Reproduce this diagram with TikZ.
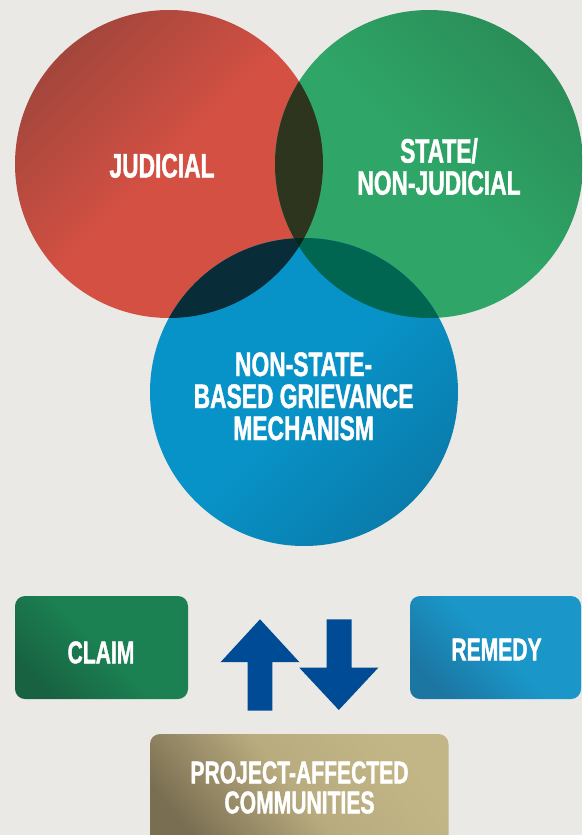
\documentclass[tikz,border=0pt]{standalone}
\usepackage{fontspec}
\newfontfamily\condfont{Liberation Sans}[FakeStretch=0.67,FakeBold=1.2]
\definecolor{bg}{RGB}{235,233,229}
\definecolor{redMain}{RGB}{212,80,67}
\definecolor{redDark}{RGB}{163,70,60}
\definecolor{greenMain}{RGB}{47,165,103}
\definecolor{greenDark}{RGB}{42,142,88}
\definecolor{blueMain}{RGB}{8,147,200}
\definecolor{blueDark}{RGB}{10,124,172}
\definecolor{rgCol}{RGB}{45,53,30}
\definecolor{rbCol}{RGB}{8,44,56}
\definecolor{gbCol}{RGB}{0,102,82}
\definecolor{rgbCol}{RGB}{8,34,28}
\definecolor{arrowBlue}{RGB}{0,75,150}
\definecolor{claimMain}{RGB}{27,128,82}
\definecolor{claimDark}{RGB}{24,98,65}
\definecolor{remedyMain}{RGB}{26,150,200}
\definecolor{remedyDark}{RGB}{28,118,162}
\definecolor{goldMain}{RGB}{195,182,134}
\definecolor{goldDark}{RGB}{122,110,82}
\begin{document}
\begin{tikzpicture}[x=1pt,y=-1pt,
  circtxt/.style={font=\condfont\bfseries\fontsize{34}{32}\selectfont, text=white, align=center, inner sep=0pt},
  boxtxt/.style={font=\condfont\bfseries\fontsize{31.5}{30}\selectfont, text=white, align=center, inner sep=0pt},
  box/.style={rounded corners=10pt, inner sep=0pt, draw=none}]
\fill[bg] (0,0) rectangle (582,835);
\clip (0,0) rectangle (582,835);
\coordinate (R) at (169,164);
\coordinate (G) at (429,164);
\coordinate (B) at (304,392);
% circles
\shade[top color=redDark, bottom color=redMain, middle color=redMain, shading angle=45] (R) circle [radius=154pt];
\shade[top color=greenDark, bottom color=greenMain, middle color=greenMain, shading angle=-45] (G) circle [radius=154pt];
\shade[top color=blueMain, bottom color=blueDark, middle color=blueMain, shading angle=45] (B) circle [radius=154pt];
% overlaps
\begin{scope}
  \clip (R) circle [radius=154pt];
  \fill[rgCol] (G) circle [radius=154pt];
  \fill[rbCol] (B) circle [radius=154pt];
\end{scope}
\begin{scope}
  \clip (G) circle [radius=154pt];
  \fill[gbCol] (B) circle [radius=154pt];
\end{scope}
\begin{scope}
  \clip (R) circle [radius=154pt];
  \clip (G) circle [radius=154pt];
  \fill[rgbCol] (B) circle [radius=154pt];
\end{scope}
% circle labels
\node[circtxt] (judicial) at (162,165.8) {JUDICIAL};
\node[circtxt] (state) at (439,166.5) {STATE/\\NON-JUDICIAL};
\node[circtxt] (nonstate) at (303.6,396.3) {NON-STATE-\\BASED GRIEVANCE\\MECHANISM};
% boxes
\node[box, minimum width=173pt, minimum height=103pt, top color=claimMain, bottom color=claimDark, middle color=claimMain, shading angle=-45] (claimbox) at (101.5,647.5) {};
\node[box, minimum width=171pt, minimum height=103pt, top color=remedyMain, bottom color=remedyDark, middle color=remedyMain, shading angle=-45] (remedybox) at (495.5,647.5) {};
\node[box, minimum width=298.5pt, minimum height=121pt, top color=goldMain, bottom color=goldDark, middle color=goldMain!85!goldDark, shading angle=-50] (pacbox) at (299.25,794.5) {};
\node[boxtxt] (claim) at (101,652.5) {CLAIM};
\node[boxtxt] (remedy) at (496.5,649.5) {REMEDY};
\node[boxtxt] (pac) at (299.5,787.5) {PROJECT-AFFECTED\\COMMUNITIES};
% arrows
\fill[arrowBlue] (260,619.3) -- (299.3,662) -- (272.3,662) -- (272.3,710.7) -- (247.7,710.7) -- (247.7,662) -- (220.7,662) -- cycle;
\fill[arrowBlue] (326.7,619.3) -- (351.7,619.3) -- (351.7,667.7) -- (378.3,667.7) -- (338.8,710) -- (299.3,667.7) -- (326.7,667.7) -- cycle;
\end{tikzpicture}
\end{document}
